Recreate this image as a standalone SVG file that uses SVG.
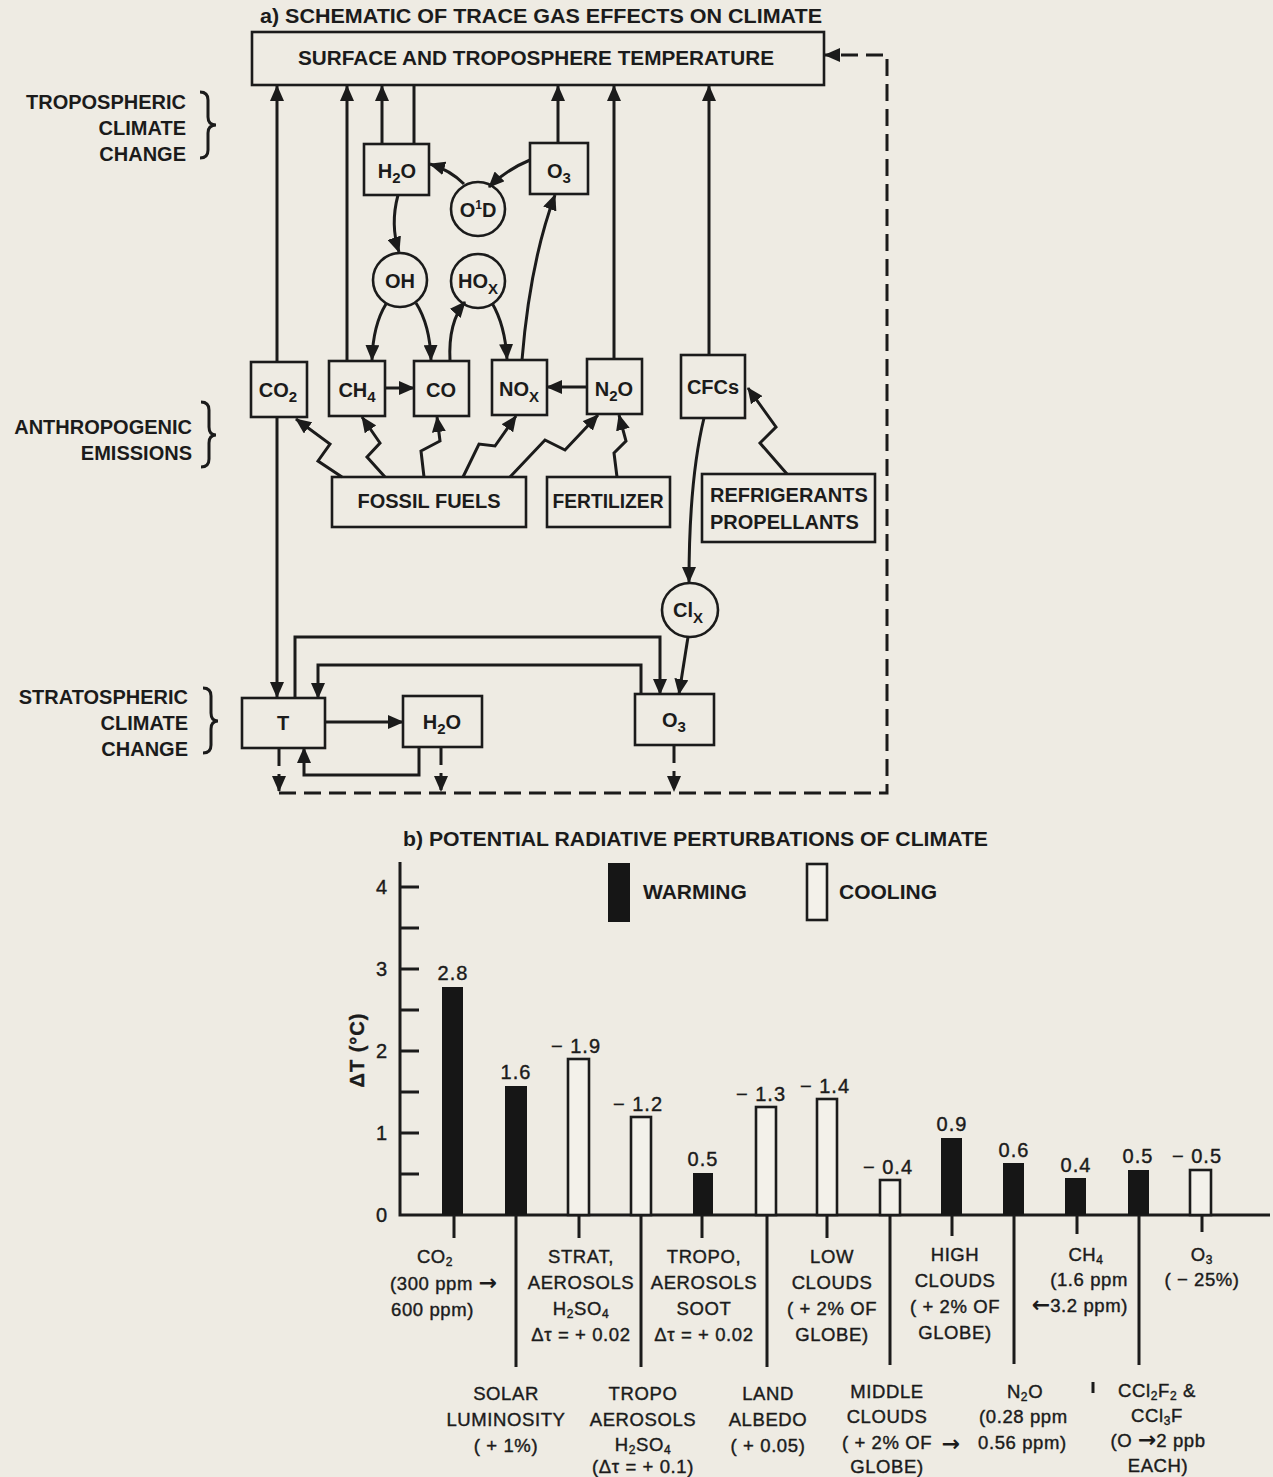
<svg xmlns="http://www.w3.org/2000/svg" width="1273" height="1477" viewBox="0 0 1273 1477">
<defs>
<style>
.bg{fill:#eeebe3}
.box{fill:none;stroke:#1b1b1b;stroke-width:2.6}
.cir{fill:none;stroke:#1b1b1b;stroke-width:2.6}
.ln{fill:none;stroke:#1b1b1b;stroke-width:3}
.ds{fill:none;stroke:#1b1b1b;stroke-width:3;stroke-dasharray:17 8}
.hd{font-family:"Liberation Sans",Arial,sans-serif;font-weight:bold;font-size:21px;fill:#1b1b1b}
.n{font-family:"Liberation Sans",Arial,sans-serif;font-weight:bold;font-size:20px;fill:#1b1b1b;text-anchor:middle}
.lb{font-family:"Liberation Sans",Arial,sans-serif;font-weight:bold;font-size:20px;fill:#1b1b1b;text-anchor:end}
.c{font-family:"Liberation Sans",Arial,sans-serif;font-size:18.5px;letter-spacing:0.6px;fill:#1b1b1b;stroke:#1b1b1b;stroke-width:0.4;text-anchor:middle}
.v{font-family:"Liberation Sans",Arial,sans-serif;font-size:20px;letter-spacing:1px;fill:#1b1b1b;stroke:#1b1b1b;stroke-width:0.4;text-anchor:middle}
.ar{font-family:"DejaVu Sans",sans-serif;font-weight:bold;font-size:22px;stroke-width:0;letter-spacing:0}
.blk{fill:#161616}
.wht{fill:#f3f1ea;stroke:#1b1b1b;stroke-width:2.6}
</style>
<marker id="ah" markerUnits="userSpaceOnUse" markerWidth="16" markerHeight="14" refX="15" refY="7" orient="auto"><path d="M0,0 L16,7 L0,14 z" fill="#1b1b1b"/></marker>
</defs>
<rect class="bg" x="0" y="0" width="1273" height="1477"/>

<!-- ===== Part a ===== -->
<text class="hd" x="260" y="23" textLength="562" lengthAdjust="spacingAndGlyphs">a) SCHEMATIC OF TRACE GAS EFFECTS ON CLIMATE</text>

<g id="lbl-tropo">
<text class="lb" x="186" y="109">TROPOSPHERIC</text>
<text class="lb" x="186" y="135">CLIMATE</text>
<text class="lb" x="186" y="161">CHANGE</text>
<path class="ln" stroke-width="2.4" d="M200,92 Q208,92 208,100 L208,117 Q208,125 216,125 Q208,125 208,133 L208,150 Q208,158 200,158"/>
</g>
<g id="lbl-anthro">
<text class="lb" x="192" y="434">ANTHROPOGENIC</text>
<text class="lb" x="192" y="460">EMISSIONS</text>
<path class="ln" stroke-width="2.4" d="M201,402 Q209,402 209,410 L209,427 Q209,435 216,435 Q209,435 209,443 L209,459 Q209,467 201,467"/>
</g>
<g id="lbl-strato">
<text class="lb" x="188" y="704">STRATOSPHERIC</text>
<text class="lb" x="188" y="730">CLIMATE</text>
<text class="lb" x="188" y="756">CHANGE</text>
<path class="ln" stroke-width="2.4" d="M203,688 Q211,688 211,696 L211,713 Q211,721 218,721 Q211,721 211,729 L211,745 Q211,753 203,753"/>
</g>

<g id="n-surface">
<rect class="box" x="252" y="32" width="572" height="53"/>
<text class="n" x="536" y="65" textLength="476" lengthAdjust="spacingAndGlyphs" font-size="22">SURFACE AND TROPOSPHERE TEMPERATURE</text>
</g>
<g id="n-h2o-t">
<rect class="box" x="364" y="144" width="65" height="51"/>
<text class="n" x="397" y="178">H<tspan font-size="15" dy="5">2</tspan><tspan dy="-5">O</tspan></text>
</g>
<g id="n-o3-t">
<rect class="box" x="530" y="143" width="58" height="51"/>
<text class="n" x="559" y="178">O<tspan font-size="15" dy="5">3</tspan></text>
</g>
<g id="n-o1d">
<circle class="cir" cx="478" cy="209" r="27"/>
<text class="n" x="478" y="217" font-size="19">O<tspan font-size="12" dy="-8">1</tspan><tspan dy="8">D</tspan></text>
</g>
<g id="n-oh">
<circle class="cir" cx="400" cy="280" r="27"/>
<text class="n" x="400" y="288" font-size="19">OH</text>
</g>
<g id="n-hox">
<circle class="cir" cx="478" cy="281" r="27"/>
<text class="n" x="478" y="288" font-size="19">HO<tspan font-size="15" dy="6">X</tspan></text>
</g>
<g id="n-co2">
<rect class="box" x="251" y="362" width="56" height="55"/>
<text class="n" x="278" y="397">CO<tspan font-size="15" dy="5">2</tspan></text>
</g>
<g id="n-ch4">
<rect class="box" x="329" y="361" width="56" height="55"/>
<text class="n" x="357" y="397">CH<tspan font-size="15" dy="5">4</tspan></text>
</g>
<g id="n-co">
<rect class="box" x="414" y="361" width="55" height="55"/>
<text class="n" x="441" y="397">CO</text>
</g>
<g id="n-nox">
<rect class="box" x="492" y="360" width="55" height="55"/>
<text class="n" x="519" y="396">NO<tspan font-size="15" dy="6">X</tspan></text>
</g>
<g id="n-n2o">
<rect class="box" x="587" y="359" width="55" height="55"/>
<text class="n" x="614" y="396">N<tspan font-size="15" dy="5">2</tspan><tspan dy="-5">O</tspan></text>
</g>
<g id="n-cfcs">
<rect class="box" x="681" y="355" width="64" height="63"/>
<text class="n" x="713" y="394">CFCs</text>
</g>
<g id="n-fossil">
<rect class="box" x="332" y="477" width="194" height="50"/>
<text class="n" x="429" y="508">FOSSIL FUELS</text>
</g>
<g id="n-fert">
<rect class="box" x="547" y="477" width="123" height="50"/>
<text class="n" x="608" y="508" textLength="111" lengthAdjust="spacingAndGlyphs">FERTILIZER</text>
</g>
<g id="n-refrig">
<rect class="box" x="702" y="474" width="173" height="68"/>
<text class="n" x="710" y="502" style="text-anchor:start">REFRIGERANTS</text>
<text class="n" x="710" y="529" style="text-anchor:start">PROPELLANTS</text>
</g>
<g id="n-clx">
<ellipse class="cir" cx="690" cy="610" rx="28" ry="27"/>
<text class="n" x="688" y="617" font-size="19">Cl<tspan font-size="15" dy="6">X</tspan></text>
</g>
<g id="n-T">
<rect class="box" x="242" y="698" width="83" height="50"/>
<text class="n" x="283" y="730">T</text>
</g>
<g id="n-h2o-s">
<rect class="box" x="403" y="696" width="79" height="51"/>
<text class="n" x="442" y="729">H<tspan font-size="15" dy="5">2</tspan><tspan dy="-5">O</tspan></text>
</g>
<g id="n-o3-s">
<rect class="box" x="635" y="694" width="79" height="51"/>
<text class="n" x="674" y="727">O<tspan font-size="15" dy="5">3</tspan></text>
</g>

<g id="connectors" marker-end="url(#ah)">
<path class="ln" d="M277,362 L277,86"/>
<path class="ln" d="M277,417 L277,697"/>
<path class="ln" d="M347,361 L347,86"/>
<path class="ln" d="M382,144 L382,86"/>
<path class="ln" d="M414,85 L414,144" marker-end="none"/>
<path class="ln" d="M558,143 L558,86"/>
<path class="ln" d="M614,359 L614,86"/>
<path class="ln" d="M709,355 L709,86"/>
<path class="ln" d="M530,160 Q506,170 489,187"/>
<path class="ln" d="M464,184 Q450,170 430,164"/>
<path class="ln" d="M398,195 Q390,225 399,252"/>
<path class="ln" d="M386,304 Q373,325 372,360"/>
<path class="ln" d="M416,303 Q430,325 431,360"/>
<path class="ln" d="M450,361 Q448,322 465,302"/>
<path class="ln" d="M492,303 Q505,325 507,359"/>
<path class="ln" d="M522,360 Q530,262 555,195"/>
<path class="ln" d="M385,388 L414,388"/>
<path class="ln" d="M587,387 L547,387"/>
<path class="ln" d="M704,418 Q689,480 689,582"/>
<path class="ln" d="M688,637 L679,694"/>
<path class="ln" d="M295,698 L295,637 L660,637 L660,694"/>
<path class="ln" d="M641,694 L641,665 L318,665 L318,698"/>
<path class="ln" d="M325,722 L403,722"/>
<path class="ln" d="M419,747 L419,775 L304,775 L304,748"/>
<path class="ln" d="M342,477 L318,461 L330,444 L296,419"/>
<path class="ln" d="M385,477 L367,457 L380,443 L362,417"/>
<path class="ln" d="M424,477 L421,451 L440,441 L437,417"/>
<path class="ln" d="M463,477 L479,444 L495,446 L516,416"/>
<path class="ln" d="M510,477 L545,440 L565,450 L598,415"/>
<path class="ln" d="M617,477 L614,453 L626,441 L619,415"/>
<path class="ln" d="M787,474 L760,443 L776,427 L748,388"/>
<path class="ds" d="M279,749 L279,791"/>
<path class="ds" d="M441,748 L441,791"/>
<path class="ds" d="M674,746 L674,791"/>
<path class="ds" d="M279,793 L887,793 L887,55 L825,55"/>
</g>

<!-- ===== Part b ===== -->
<text class="hd" x="403" y="846" textLength="585" lengthAdjust="spacingAndGlyphs">b) POTENTIAL RADIATIVE PERTURBATIONS OF CLIMATE</text>

<g id="legend">
<rect class="blk" x="608" y="863" width="22" height="59"/>
<text class="hd" x="643" y="899">WARMING</text>
<rect class="wht" x="807" y="864" width="20" height="56"/>
<text class="hd" x="839" y="899">COOLING</text>
</g>

<g id="axes">
<path class="ln" d="M400,862 L400,1215 L1270,1215"/>
<path class="ln" d="M400,887 H419 M400,928 H419 M400,969 H419 M400,1010 H419 M400,1051 H419 M400,1092 H419 M400,1133 H419 M400,1174 H419"/>
<text class="v" x="382" y="894">4</text>
<text class="v" x="382" y="976">3</text>
<text class="v" x="382" y="1058">2</text>
<text class="v" x="382" y="1140">1</text>
<text class="v" x="382" y="1222">0</text>
<text class="v" transform="translate(364,1050) rotate(-90)" x="0" y="0" font-weight="bold" stroke-width="0">ΔT (°C)</text>
</g>

<g id="bars">
<rect class="blk" x="442" y="987" width="21" height="228"/>
<rect class="blk" x="505" y="1086" width="22" height="129"/>
<rect class="wht" x="568" y="1059" width="21" height="156"/>
<rect class="wht" x="631" y="1117" width="20" height="98"/>
<rect class="blk" x="693" y="1173" width="20" height="42"/>
<rect class="wht" x="756" y="1107" width="20" height="108"/>
<rect class="wht" x="817" y="1099" width="20" height="116"/>
<rect class="wht" x="880" y="1180" width="20" height="35"/>
<rect class="blk" x="941" y="1138" width="21" height="77"/>
<rect class="blk" x="1003" y="1163" width="21" height="52"/>
<rect class="blk" x="1065" y="1178" width="21" height="37"/>
<rect class="blk" x="1128" y="1170" width="21" height="45"/>
<rect class="wht" x="1190" y="1170" width="21" height="45"/>
</g>

<g id="values">
<text class="v" x="453" y="980">2.8</text>
<text class="v" x="516" y="1079">1.6</text>
<text class="v" x="576" y="1053">− 1.9</text>
<text class="v" x="638" y="1111">− 1.2</text>
<text class="v" x="703" y="1166">0.5</text>
<text class="v" x="761" y="1101">− 1.3</text>
<text class="v" x="825" y="1093">− 1.4</text>
<text class="v" x="888" y="1174">− 0.4</text>
<text class="v" x="952" y="1131">0.9</text>
<text class="v" x="1014" y="1157">0.6</text>
<text class="v" x="1076" y="1172">0.4</text>
<text class="v" x="1138" y="1163">0.5</text>
<text class="v" x="1197" y="1163">− 0.5</text>
</g>

<g id="ticks">
<path class="ln" d="M454,1215 V1238 M579,1215 V1238 M702,1215 V1238 M827,1215 V1238 M952,1215 V1236 M1077,1215 V1234 M1202,1215 V1232"/>
<path class="ln" d="M516,1215 V1367 M641,1215 V1367 M767,1215 V1367 M890,1215 V1365 M1014,1215 V1364 M1139,1215 V1365"/>
<path class="ln" stroke-width="1.5" d="M1093,1382 V1393"/>
</g>

<g id="labels-upper">
<text class="c" x="435" y="1263">CO<tspan font-size="12" dy="3">2</tspan></text>
<text class="c" x="390" y="1290" style="text-anchor:start">(300 ppm <tspan class="ar">→</tspan></text>
<text class="c" x="391" y="1316" style="text-anchor:start">600 ppm)</text>

<text class="c" x="581" y="1263">STRAT,</text>
<text class="c" x="581" y="1289">AEROSOLS</text>
<text class="c" x="581" y="1315">H<tspan font-size="12" dy="3">2</tspan><tspan dy="-3">SO</tspan><tspan font-size="12" dy="3">4</tspan></text>
<text class="c" x="581" y="1341">Δτ = + 0.02</text>

<text class="c" x="704" y="1263">TROPO,</text>
<text class="c" x="704" y="1289">AEROSOLS</text>
<text class="c" x="704" y="1315">SOOT</text>
<text class="c" x="704" y="1341">Δτ = + 0.02</text>

<text class="c" x="832" y="1263">LOW</text>
<text class="c" x="832" y="1289">CLOUDS</text>
<text class="c" x="832" y="1315">( + 2% OF</text>
<text class="c" x="832" y="1341">GLOBE)</text>

<text class="c" x="955" y="1261">HIGH</text>
<text class="c" x="955" y="1287">CLOUDS</text>
<text class="c" x="955" y="1313">( + 2% OF</text>
<text class="c" x="955" y="1339">GLOBE)</text>

<text class="c" x="1086" y="1261">CH<tspan font-size="12" dy="3">4</tspan></text>
<text class="c" x="1128" y="1286" style="text-anchor:end">(1.6 ppm</text>
<text class="c" x="1128" y="1312" style="text-anchor:end"><tspan class="ar">←</tspan>3.2 ppm)</text>

<text class="c" x="1202" y="1261">O<tspan font-size="12" dy="3">3</tspan></text>
<text class="c" x="1202" y="1286">( − 25%)</text>
</g>

<g id="labels-lower">
<text class="c" x="506" y="1400">SOLAR</text>
<text class="c" x="506" y="1426">LUMINOSITY</text>
<text class="c" x="506" y="1452">( + 1%)</text>

<text class="c" x="643" y="1400">TROPO</text>
<text class="c" x="643" y="1426">AEROSOLS</text>
<text class="c" x="643" y="1451">H<tspan font-size="12" dy="3">2</tspan><tspan dy="-3">SO</tspan><tspan font-size="12" dy="3">4</tspan></text>
<text class="c" x="643" y="1473">(Δτ = + 0.1)</text>

<text class="c" x="768" y="1400">LAND</text>
<text class="c" x="768" y="1426">ALBEDO</text>
<text class="c" x="768" y="1452">( + 0.05)</text>

<text class="c" x="887" y="1398">MIDDLE</text>
<text class="c" x="887" y="1423">CLOUDS</text>
<text class="c" x="887" y="1449">( + 2% OF</text>
<text class="c ar" x="951" y="1451">→</text>
<text class="c" x="887" y="1473">GLOBE)</text>

<text class="c" x="1025" y="1398">N<tspan font-size="12" dy="3">2</tspan><tspan dy="-3">O</tspan></text>
<text class="c" x="979" y="1423" style="text-anchor:start">(0.28 ppm</text>
<text class="c" x="978" y="1449" style="text-anchor:start">0.56 ppm)</text>

<text class="c" x="1157" y="1397">CCl<tspan font-size="12" dy="3">2</tspan><tspan dy="-3">F</tspan><tspan font-size="12" dy="3">2</tspan><tspan dy="-3"> &amp;</tspan></text>
<text class="c" x="1157" y="1422">CCl<tspan font-size="12" dy="3">3</tspan><tspan dy="-3">F</tspan></text>
<text class="c" x="1158" y="1447">(O <tspan class="ar">→</tspan>2 ppb</text>
<text class="c" x="1158" y="1472">EACH)</text>
</g>
</svg>
